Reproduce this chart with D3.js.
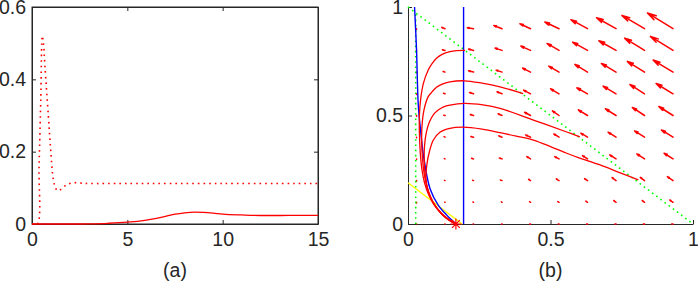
<!DOCTYPE html>
<html>
<head>
<meta charset="utf-8">
<script src="https://cdn.jsdelivr.net/npm/d3@7/dist/d3.min.js"></script>
<style>
  body { margin: 0; background: #fff; }
  svg text { font-family: "Liberation Sans", Arial, sans-serif; font-size: 19.5px; fill: #262626; }
  .axis path, .axis line { stroke: #262626; }
</style>
</head>
<body>
<div id="chart"></div>
<script>
// ---- panel (a): time series ----
const aXTicks = [0, 5, 10, 15];
const aYTicks = [0, 0.2, 0.4, 0.6];
const dottedT = [0, 0.28, 0.37, 0.46, 0.54, 0.6, 0.68, 0.86, 0.98, 1.12, 1.25, 1.35, 1.5, 1.8, 2.17, 2.6, 3, 5, 10, 15];
const dottedY = [0, 0, 0.158, 0.343, 0.52, 0.5, 0.435, 0.297, 0.205, 0.122, 0.098, 0.092, 0.095, 0.108, 0.114, 0.113, 0.112, 0.112, 0.112, 0.112];
const solidT = [0, 2, 3, 4, 5, 6, 7, 7.5, 8, 8.5, 9, 9.5, 10, 11, 12, 13, 14, 15];
const solidY = [0, 0, 0.0005, 0.002, 0.005, 0.011, 0.021, 0.027, 0.031, 0.033, 0.032, 0.030, 0.0275, 0.025, 0.0235, 0.0235, 0.024, 0.024];

// ---- panel (b): phase plane ----
const bTicks = [0, 0.5, 1];
const gridX = [0.03, 0.13, 0.23, 0.33, 0.43, 0.53, 0.63, 0.73, 0.83, 0.93];
const gridY = [0, 0.1, 0.2, 0.3, 0.4, 0.5, 0.6, 0.7, 0.8, 0.9];
// vector components (x100), one row per gridY value
const fieldU = [
  [0, -0.1, -0.15, -0.2, -0.25, -0.3, -0.35, -0.4, -0.45, -0.5],
  [0, -0.1, -0.2, -0.25, -0.35, -0.45, -0.6, -0.8, -0.8, -1.15],
  [0, -0.2, -0.35, -0.6, -0.7, -0.95, -1.05, -1.4, -1.5, -2.0],
  [0, -0.25, -0.7, -0.95, -1.3, -1.5, -1.75, -2.2, -2.7, -3.15],
  [0, -0.35, -0.95, -1.15, -1.75, -1.85, -2.35, -2.8, -3.5, -4.1],
  [0, -0.45, -1.15, -1.4, -2.1, -2.35, -3.25, -3.75, -4.3, -5.0],
  [0, -0.55, -1.4, -1.75, -2.45, -3.0, -3.75, -4.55, -5.15, -5.95],
  [0, -0.7, -1.75, -2.1, -2.8, -3.6, -4.45, -5.15, -6.05, -7.0],
  [0, -0.95, -1.75, -2.45, -3.4, -4.2, -5.25, -6.05, -7.0, -7.95],
  [0, -1.15, -2.2, -2.9, -3.75, -5.0, -5.85, -6.85, -7.95, -9.0]
];
const fieldV = [
  [0, 0, 0, 0, 0, 0, 0, 0, 0, 0],
  [-0.3, 0.1, 0.15, 0.2, 0.3, 0.35, 0.55, 0.8, 0.8, 1.05],
  [-0.3, 0.1, 0.15, 0.3, 0.6, 0.8, 0.9, 1.4, 1.5, 1.85],
  [-0.3, 0.15, 0.25, 0.45, 1.05, 1.05, 1.5, 1.85, 2.3, 2.6],
  [-0.3, 0.25, 0.3, 0.6, 1.05, 1.5, 1.85, 2.3, 2.9, 3.35],
  [-0.3, 0.15, 0.45, 0.8, 1.5, 2.15, 2.6, 3.1, 3.7, 4.15],
  [-0.3, 0.25, 0.6, 0.9, 1.7, 2.3, 2.75, 3.55, 4.3, 4.75],
  [-0.3, 0.3, 0.6, 0.9, 1.85, 2.75, 3.55, 4.0, 4.95, 5.55],
  [-0.3, 0.3, 0.6, 1.05, 2.0, 3.2, 3.8, 4.45, 5.65, 6.45],
  [-0.3, 0.6, 0.45, 1.5, 2.3, 3.1, 4.15, 5.05, 6.15, 7.25]
];
const traj1 = [[0.2,0.8],[0.17,0.799],[0.147,0.794],[0.12,0.782],[0.1,0.764],[0.085,0.74],[0.071,0.71],[0.054,0.648],[0.044,0.571],[0.04,0.5],[0.04,0.42],[0.043,0.33],[0.049,0.25],[0.058,0.19],[0.074,0.13],[0.095,0.082],[0.12,0.043],[0.145,0.016],[0.168,0]];
const traj2 = [[0.404,0.601],[0.323,0.632],[0.26,0.649],[0.198,0.66],[0.147,0.655],[0.12,0.645],[0.1,0.63],[0.085,0.61],[0.071,0.587],[0.056,0.525],[0.049,0.45],[0.048,0.38],[0.051,0.3],[0.057,0.23],[0.068,0.165],[0.086,0.104],[0.113,0.054],[0.143,0.019],[0.168,0]];
const traj3 = [[0.603,0.402],[0.557,0.424],[0.44,0.479],[0.323,0.533],[0.263,0.549],[0.198,0.556],[0.147,0.548],[0.125,0.54],[0.106,0.525],[0.09,0.505],[0.075,0.47],[0.064,0.42],[0.058,0.36],[0.057,0.29],[0.06,0.225],[0.069,0.16],[0.088,0.1],[0.116,0.05],[0.145,0.018],[0.168,0]];
const traj4 = [[0.808,0.203],[0.74,0.238],[0.674,0.272],[0.6,0.305],[0.557,0.326],[0.5,0.357],[0.44,0.387],[0.38,0.405],[0.323,0.421],[0.26,0.437],[0.194,0.446],[0.147,0.441],[0.112,0.423],[0.089,0.387],[0.075,0.333],[0.066,0.272],[0.063,0.21],[0.071,0.149],[0.089,0.095],[0.118,0.049],[0.147,0.018],[0.168,0]];
const blueCurve = [[0.023,1],[0.03,0.8],[0.036,0.55],[0.045,0.42],[0.054,0.318],[0.077,0.164],[0.106,0.0875],[0.136,0.041],[0.159,0.011],[0.168,0]];
const blueVertical = [[0.195,0],[0.195,1]];
const greenVertical = [[0.027,0],[0.027,0.973]];
const greenDiagonal = [[0,1],[1,0]];
const yellowLine = [[0,0.19],[0.19,0]];
const equilibrium = [0.168, 0];

const w = 698, h = 282;
const svg = d3.select('#chart').append('svg').attr('width', w).attr('height', h);

// ---------- panel (a) ----------
const xA = d3.scaleLinear().domain([0, 15]).range([32, 318]);
const yA = d3.scaleLinear().domain([0, 0.6]).range([224, 7]);

svg.append('rect')
  .attr('x', xA(0)).attr('y', yA(0.6))
  .attr('width', xA(15) - xA(0)).attr('height', yA(0) - yA(0.6))
  .attr('fill', 'none').attr('stroke', '#262626');

svg.append('g').attr('class', 'axis')
  .attr('transform', 'translate(0,' + yA(0) + ')')
  .call(d3.axisBottom(xA).tickValues(aXTicks).tickFormat(d3.format('d')).tickSizeInner(-4).tickSizeOuter(0).tickPadding(8));
svg.append('g').attr('class', 'axis')
  .attr('transform', 'translate(0,' + yA(0.6) + ')')
  .call(d3.axisTop(xA).tickValues(aXTicks).tickFormat('').tickSizeInner(-4).tickSizeOuter(0));
svg.append('g').attr('class', 'axis')
  .attr('transform', 'translate(' + xA(0) + ',0)')
  .call(d3.axisLeft(yA).tickValues(aYTicks).tickFormat(d => d === 0 ? '0' : d3.format('.1f')(d)).tickSizeInner(-4).tickSizeOuter(0).tickPadding(6));
svg.append('g').attr('class', 'axis')
  .attr('transform', 'translate(' + xA(15) + ',0)')
  .call(d3.axisRight(yA).tickValues(aYTicks).tickFormat('').tickSizeInner(-4).tickSizeOuter(0));

const lineA = d3.line().x(d => xA(d[0])).y(d => yA(d[1])).curve(d3.curveMonotoneX);
svg.append('path')
  .datum(solidT.map((t, i) => [t, solidY[i]]))
  .attr('d', lineA).attr('fill', 'none').attr('stroke', '#ff0000').attr('stroke-width', 1.3);
svg.append('path')
  .datum(dottedT.map((t, i) => [t, dottedY[i]]))
  .attr('d', lineA.curve(d3.curveCatmullRom.alpha(0.5))).attr('fill', 'none').attr('stroke', '#ff0000')
  .attr('stroke-width', 1.6).attr('stroke-dasharray', '1.6,4');

svg.append('text').text('(a)').attr('x', (xA(0) + xA(15)) / 2).attr('y', 277).attr('text-anchor', 'middle');

// ---------- panel (b) ----------
const xB = d3.scaleLinear().domain([0, 1]).range([408, 693]);
const yB = d3.scaleLinear().domain([0, 1]).range([224, 7]);

svg.append('g').attr('class', 'axis')
  .attr('transform', 'translate(0,' + yB(0) + ')')
  .call(d3.axisBottom(xB).tickValues(bTicks).tickFormat(d => d === 0.5 ? '0.5' : d3.format('d')(d)).tickSizeInner(-4).tickSizeOuter(0).tickPadding(8));
svg.append('g').attr('class', 'axis')
  .attr('transform', 'translate(' + xB(0) + ',0)')
  .call(d3.axisLeft(yB).tickValues(bTicks).tickFormat(d => d === 0.5 ? '0.5' : d3.format('d')(d)).tickSizeInner(-4).tickSizeOuter(0).tickPadding(5));

const lineB = d3.line().x(d => xB(d[0])).y(d => yB(d[1]));
const smoothB = d3.line().x(d => xB(d[0])).y(d => yB(d[1])).curve(d3.curveCatmullRom.alpha(0.5));

// quiver field
const scaleK = 0.01;
const quiver = [];
gridY.forEach((gy, j) => {
  gridX.forEach((gx, i) => {
    quiver.push({ x: gx, y: gy, u: fieldU[j][i] * scaleK, v: fieldV[j][i] * scaleK });
  });
});
svg.append('g').selectAll('path')
  .data(quiver)
  .enter()
  .append('path')
  .attr('d', d => {
    const x0 = xB(d.x), y0 = yB(d.y);
    const x1 = xB(d.x + d.u), y1 = yB(d.y + d.v);
    const dx = x1 - x0, dy = y1 - y0;
    const len = Math.sqrt(dx * dx + dy * dy);
    let p = 'M' + x0 + ',' + y0 + 'L' + x1 + ',' + y1;
    if (len > 2) {
      const a = 0.3, b = 0.25;
      const hx1 = x1 - a * (dx + b * dy), hy1 = y1 - a * (dy - b * dx);
      const hx2 = x1 - a * (dx - b * dy), hy2 = y1 - a * (dy + b * dx);
      p += 'M' + hx1 + ',' + hy1 + 'L' + x1 + ',' + y1 + 'L' + hx2 + ',' + hy2;
    }
    return p;
  })
  .attr('fill', 'none').attr('stroke', '#ff0000').attr('stroke-width', 1.5)
  .attr('stroke-linecap', 'round');

// green dotted
svg.append('path').datum(greenVertical).attr('d', lineB)
  .attr('fill', 'none').attr('stroke', '#00ff00').attr('stroke-width', 1.6).attr('stroke-dasharray', '1.6,3.6');
svg.append('path').datum(greenDiagonal).attr('d', lineB)
  .attr('fill', 'none').attr('stroke', '#00ff00').attr('stroke-width', 1.6).attr('stroke-dasharray', '1.6,3.6');

// yellow
svg.append('path').datum(yellowLine).attr('d', lineB)
  .attr('fill', 'none').attr('stroke', '#ffff00').attr('stroke-width', 1.3);

// blue nullclines
svg.append('path').datum(blueVertical).attr('d', lineB)
  .attr('fill', 'none').attr('stroke', '#0000ff').attr('stroke-width', 1.4);
svg.append('path').datum(blueCurve).attr('d', smoothB)
  .attr('fill', 'none').attr('stroke', '#0000ff').attr('stroke-width', 1.4);

// trajectories
[traj1, traj2, traj3, traj4].forEach(tr => {
  svg.append('path').datum(tr).attr('d', smoothB)
    .attr('fill', 'none').attr('stroke', '#ff0000').attr('stroke-width', 1.3);
});

// equilibrium star
const sx = xB(equilibrium[0]), sy = yB(equilibrium[1]), r = 5.5;
const starPath = [0, 45, 90, 135].map(deg => {
  const a = deg * Math.PI / 180;
  return 'M' + (sx - r * Math.cos(a)) + ',' + (sy - r * Math.sin(a)) + 'L' + (sx + r * Math.cos(a)) + ',' + (sy + r * Math.sin(a));
}).join('');
svg.append('path').attr('d', starPath).attr('stroke', '#ff0000').attr('stroke-width', 1.2).attr('fill', 'none');

svg.append('text').text('(b)').attr('x', (xB(0) + xB(1)) / 2).attr('y', 277).attr('text-anchor', 'middle');
</script>
</body>
</html>
